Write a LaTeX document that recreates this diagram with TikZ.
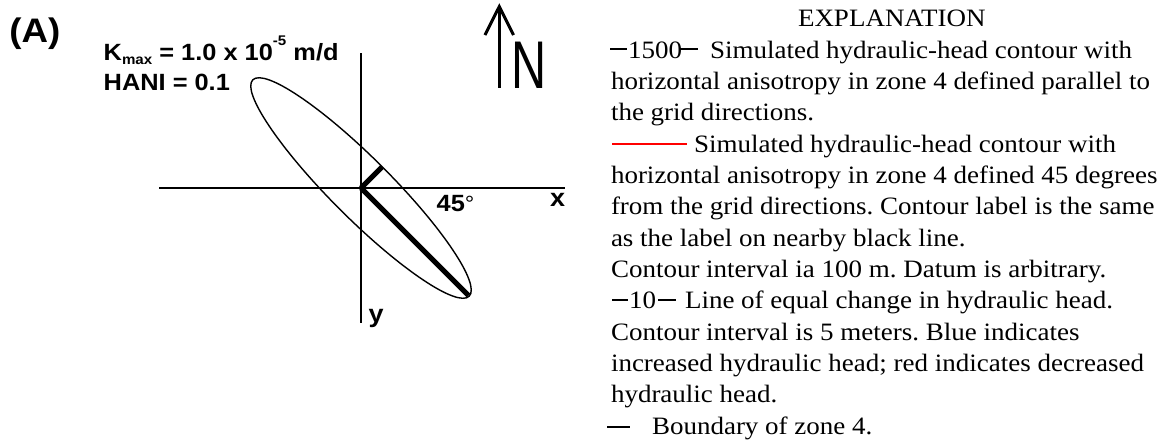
\documentclass[tikz,border=0pt]{standalone}
\usepackage{fontspec}
\setmainfont{Liberation Serif}[FakeStretch=1.08]
\newfontfamily\arialf{Liberation Sans}[FakeStretch=1.08]
\newfontfamily\nfont{Liberation Sans}[FakeStretch=0.72]
\frenchspacing
\tikzset{
  expl/.style={anchor=base west, inner sep=0pt, outer sep=0pt, font=\fontsize{25}{30}\selectfont},
  lab/.style={anchor=base west, inner sep=0pt, outer sep=0pt, font=\arialf\bfseries\fontsize{23.5}{28}\selectfont},
  axisline/.style={line width=1.8pt},
  heavyline/.style={line width=5pt},
  ellline/.style={line width=1.4pt},
  northline/.style={line width=3pt},
  legdash/.style={line width=2pt},
  redleg/.style={line width=1.6pt, red},
}
\begin{document}
\begin{tikzpicture}[x=1pt,y=-1pt]
\useasboundingbox (0,0) rectangle (1160,440);
% ---------- left panel ----------
\node[lab, font=\arialf\bfseries\fontsize{34}{38}\selectfont] (A) at (9.3,42.5) {(A)};
\node[lab] (kmax) at (103.7,60) {K\raisebox{-4pt}{\fontsize{14}{14}\selectfont max} = 1.0 x 10\raisebox{15pt}{\fontsize{14}{14}\selectfont -5} m/d};
\node[lab] (hani) at (103.7,90.7) {HANI = 0.1};
% axes
\coordinate (O) at (361,188);
\coordinate (xl) at (159,188);
\coordinate (xr) at (565,188);
\coordinate (yt) at (361,53);
\coordinate (yb) at (361,323);
\draw[axisline] (xl) -- (xr);
\draw[axisline] (yt) -- (yb);
\draw[ellline, rotate around={-45:(O)}] (O) ellipse [x radius=153pt, y radius=30pt];
\coordinate (kmaxend) at (468.5,295.5);
\coordinate (kminend) at (382,167);
\draw[heavyline] (O) -- (kmaxend);
\draw[heavyline] (O) -- (kminend);
\node[lab, font=\arialf\bfseries\fontsize{25}{30}\selectfont] (xlab) at (550,206.7) {x};
\node[lab, font=\arialf\bfseries\fontsize{25}{30}\selectfont] (ylab) at (368.5,322) {y};
\node[lab] (deg) at (436.7,211.7) {45{\mdseries\fontsize{22}{26}\selectfont °}};
% north arrow
\coordinate (ntip) at (499.3,6.5);
\coordinate (nbase) at (499.3,88.3);
\coordinate (nwl) at (485,35);
\coordinate (nwr) at (513.5,35);
\draw[northline] (ntip) -- (nbase);
\draw[northline, line join=miter] (nwl) -- (ntip) -- (nwr);
\node[anchor=base west, inner sep=0pt, font=\nfont\fontsize{67.5}{70}\selectfont] (N) at (511.5,88.3) {N};
% ---------- explanation ----------
\node[expl] (e0) at (798,26.7) {EXPLANATION};
\draw[legdash] (610,49) -- (626.5,49);
\node[expl] (e1n) at (628,58) {1500};
\draw[legdash] (680,49) -- (698,49);
\node[expl] (e1) at (710,58) {Simulated hydraulic-head contour with};
\node[expl] (e2) at (611,89.4) {horizontal anisotropy in zone 4 defined parallel to};
\node[expl] (e3) at (611,120.7) {the grid directions.};
\draw[redleg] (612,144) -- (687,144);
\node[expl] (e4) at (694,152) {Simulated hydraulic-head contour with};
\node[expl] (e5) at (611,183.4) {horizontal anisotropy in zone 4 defined 45 degrees};
\node[expl] (e6) at (611,214.7) {from the grid directions. Contour label is the same};
\node[expl] (e7) at (611,246) {as the label on nearby black line.};
\node[expl] (e8) at (611,277.3) {Contour interval ia 100 m. Datum is arbitrary.};
\draw[legdash] (612,299.7) -- (628,299.7);
\node[expl] (e9n) at (629,308.7) {10};
\draw[legdash] (658,299.7) -- (676,299.7);
\node[expl] (e9) at (685,308.7) {Line of equal change in hydraulic head.};
\node[expl] (e10) at (611,340) {Contour interval is 5 meters. Blue indicates};
\node[expl] (e11) at (611,371.3) {increased hydraulic head; red indicates decreased};
\node[expl] (e12) at (611,402.7) {hydraulic head.};
\draw[legdash, line width=2.6pt] (607,427) -- (630,427);
\node[expl] (e13) at (652,434) {Boundary of zone 4.};
\end{tikzpicture}
\end{document}
